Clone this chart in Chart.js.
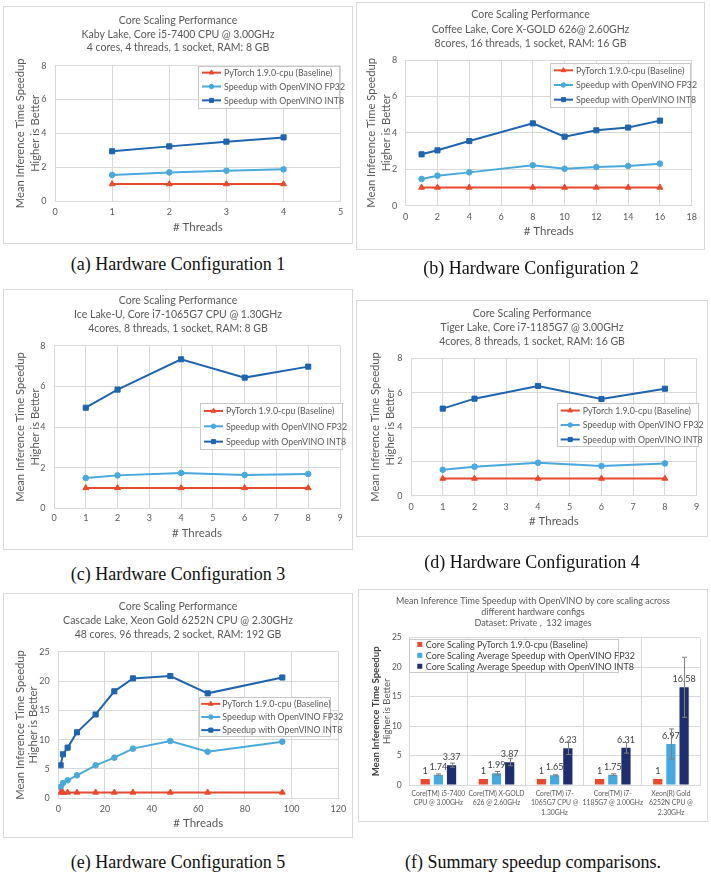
<!DOCTYPE html>
<html><head><meta charset="utf-8">
<script src="https://cdn.jsdelivr.net/npm/chart.js@4.4.0/dist/chart.umd.min.js"></script>
<style>
html,body{margin:0;padding:0;background:#fff;}
body{width:711px;height:881px;overflow:hidden;position:relative;}
.panel{position:absolute;}
.panel canvas{position:absolute;left:0;top:0;}
.frame{position:absolute;left:0;top:0;border:1px solid #d9d9d9;box-sizing:border-box;pointer-events:none;}
.cap{position:absolute;font-family:"Liberation Serif","DejaVu Serif",serif;font-size:18px;color:#111;white-space:nowrap;transform:translate(-50%,-50%);}
</style></head><body>
<script>
// ================= DATA =================
const seriesNames = ['PyTorch 1.9.0-cpu (Baseline)', 'Speedup with OpenVINO FP32', 'Speedup with OpenVINO INT8'];
const xAxisTitle = '# Threads';
const yAxisTitle = ['Mean Inference Time Speedup', 'Higher is Better'];

const titleA = ['Core Scaling Performance', 'Kaby Lake, Core i5-7400 CPU @ 3.00GHz', '4 cores, 4 threads, 1 socket, RAM: 8 GB'];
const threadsA = [1, 2, 3, 4];
const baselineA = [1, 1, 1, 1];
const fp32A = [1.54, 1.69, 1.79, 1.87];
const int8A = [2.94, 3.23, 3.51, 3.76];

const titleB = ['Core Scaling Performance', 'Coffee Lake, Core X-GOLD 626@ 2.60GHz', '8cores, 16 threads, 1 socket, RAM: 16 GB'];
const threadsB = [1, 2, 4, 8, 10, 12, 14, 16];
const baselineB = [1, 1, 1, 1, 1, 1, 1, 1];
const fp32B = [1.47, 1.65, 1.83, 2.22, 2.03, 2.12, 2.18, 2.31];
const int8B = [2.82, 3.04, 3.55, 4.52, 3.79, 4.14, 4.29, 4.67];

const titleC = ['Core Scaling Performance', 'Ice Lake-U, Core i7-1065G7 CPU @ 1.30GHz', '4cores, 8 threads, 1 socket, RAM: 8 GB'];
const threadsC = [1, 2, 4, 6, 8];
const baselineC = [1, 1, 1, 1, 1];
const fp32C = [1.49, 1.62, 1.74, 1.64, 1.69];
const int8C = [4.95, 5.84, 7.33, 6.43, 6.97];

const titleD = ['Core Scaling Performance', 'Tiger Lake, Core i7-1185G7 @ 3.00GHz', '4cores, 8 threads, 1 socket, RAM: 16 GB'];
const threadsD = [1, 2, 4, 6, 8];
const baselineD = [1, 1, 1, 1, 1];
const fp32D = [1.51, 1.69, 1.92, 1.73, 1.88];
const int8D = [5.07, 5.65, 6.39, 5.63, 6.23];

const titleE = ['Core Scaling Performance', 'Cascade Lake, Xeon Gold 6252N CPU @ 2.30GHz', '48 cores, 96 threads, 2 socket, RAM: 192 GB'];
const threadsE = [1, 2, 4, 8, 16, 24, 32, 48, 64, 96];
const baselineE = [1, 1, 1, 1, 1, 1, 1, 1, 1, 1];
const fp32E = [1.93, 2.6, 3.07, 3.92, 5.63, 6.93, 8.47, 9.77, 7.95, 9.66];
const int8E = [5.63, 7.5, 8.64, 11.25, 14.3, 18.24, 20.45, 20.85, 17.9, 20.6];

const summaryTitle = ['Mean Inference Time Speedup with OpenVINO by core scaling across', 'different hardware configs', 'Dataset: Private ,  132 images'];
const summaryCats = [['Core(TM) i5-7400', 'CPU @ 3.00GHz'], ['Core(TM) X-GOLD', '626 @ 2.60GHz'], ['Core(TM) i7-', '1065G7 CPU @', '1.30GHz'], ['Core(TM) i7-', '1185G7 @ 3.00GHz'], ['Xeon(R) Gold', '6252N CPU @', '2.30GHz']];
const summaryNames = ['Core Scaling PyTorch 1.9.0-cpu (Baseline)', 'Core Scaling Average Speedup with OpenVINO FP32', 'Core Scaling Average Speedup with OpenVINO INT8'];
const summaryBase = [1, 1, 1, 1, 1];
const summaryFp32 = [1.74, 1.99, 1.65, 1.75, 6.97];
const summaryInt8 = [3.37, 3.87, 6.23, 6.31, 16.58];
const errFp32 = [0.15, 0.3, 0.1, 0.15, 2.55];
const errInt8 = [0.35, 0.6, 1.05, 0.9, 5.1];
const summaryYTitle = ['Mean Inference Time Speedup', 'Higher is Better'];

const captions = ['(a) Hardware Configuration 1', '(b) Hardware Configuration 2', '(c) Hardware Configuration 3',
                  '(d) Hardware Configuration 4', '(e) Hardware Configuration 5', '(f) Summary speedup comparisons.'];

// ================= STYLE / LAYOUT =================
const FONT = 'Lato, "Open Sans", sans-serif';
const C_RED = '#E84A2E', C_LB = '#4AA8DC', C_DB = '#1F64AE';
const B_RED = '#E84A2E', B_LB = '#45A8DE', B_NAVY = '#1F2E6E';
const GRID = '#d9d9d9', TXT = '#595959';

function mkPanel(box) {
  const d = document.createElement('div');
  d.className = 'panel';
  const W = Math.round(box[2] - box[0]), H = Math.round(box[3] - box[1]);
  d.style.left = box[0] + 'px'; d.style.top = box[1] + 'px';
  d.style.width = W + 'px'; d.style.height = H + 'px';
  const cv = document.createElement('canvas');
  cv.width = W; cv.height = H; cv.style.width = W + 'px'; cv.style.height = H + 'px';
  d.appendChild(cv);
  const f = document.createElement('div'); f.className = 'frame';
  f.style.width = W + 'px'; f.style.height = H + 'px';
  d.appendChild(f);
  document.body.appendChild(d);
  return {cv, W, H};
}

const lineLegendPlugin = {
  id: 'lineLegend',
  afterDraw(chart, args, o) {
    const b = o.box; if (!b) return;
    const ctx = chart.ctx;
    ctx.save();
    ctx.fillStyle = '#fff';
    ctx.fillRect(b[0], b[1], b[2] - b[0], b[3] - b[1]);
    ctx.strokeStyle = '#c8c8c8'; ctx.lineWidth = 1;
    ctx.strokeRect(Math.round(b[0]) + 0.5, Math.round(b[1]) + 0.5, Math.round(b[2] - b[0]), Math.round(b[3] - b[1]));
    const n = chart.data.datasets.length;
    const rowH = (b[3] - b[1]) / n;
    ctx.font = o.fontSize + 'px ' + FONT;
    ctx.textBaseline = 'middle'; ctx.textAlign = 'left';
    chart.data.datasets.forEach((ds, i) => {
      const cy = b[1] + rowH * (i + 0.5);
      const x0 = b[0] + o.x0, x1 = b[0] + o.x1;
      ctx.strokeStyle = ds.borderColor; ctx.lineWidth = ds.borderWidth;
      ctx.beginPath(); ctx.moveTo(x0, cy); ctx.lineTo(x1, cy); ctx.stroke();
      ctx.fillStyle = ds.pointBackgroundColor; ctx.strokeStyle = ds.borderColor; ctx.lineWidth = 1;
      Chart.helpers.drawPoint(ctx, {pointStyle: ds.pointStyle, radius: ds.pointRadius * 0.8, borderWidth: 1, rotation: 0}, (x0 + x1) / 2, cy);
      ctx.fillStyle = TXT;
      ctx.fillText(ds.label, x1 + o.gap, cy + 0.5);
    });
    ctx.restore();
  }
};

function lineChart(g, titleLines, xs, base, fp32, int8, xMax, xStep, yMax, yStep) {
  const {cv, W, H} = mkPanel(g.box);
  const bx = g.box[0], by = g.box[1];
  const pl = g.plot[0] - bx, pt = g.plot[1] - by, pr = g.plot[2] - bx, pb = g.plot[3] - by;
  const padR = W - pr, padL = padR;
  const yScaleW = pl - padL;
  const tSize = 10.5, tLH = g.titleLH;
  const tTop = (g.titleY - by) - tLH / 2;
  const tBottom = pt - tTop - titleLines.length * tLH;
  const yTSize = 11.2, yLH = g.yLH;
  const yTitlePad = (g.yTitleX - bx) - padL - yLH / 2;
  const tickSize = 9, tickLH = 11;
  const xTickPad = (g.tickY - g.plot[3]) - tickLH / 2;
  const xTSize = 11.5, xLH = 14;
  const xAxisH = (g.xTitleY - by) + xLH / 2 - pb;
  const padB = H - pb - xAxisH;
  const pts = arr => xs.map((x, i) => ({x: x, y: arr[i]}));
  const mk = (label, arr, color, style, r) => ({
    label, data: pts(arr), borderColor: color, backgroundColor: color, pointBackgroundColor: color,
    pointBorderColor: color, pointStyle: style, pointRadius: r, pointBorderWidth: 1, borderWidth: 2, tension: 0
  });
  new Chart(cv, {
    type: 'line',
    data: {datasets: [
      mk(seriesNames[0], base, C_RED, 'triangle', 3.4),
      mk(seriesNames[1], fp32, C_LB, 'circle', 2.8),
      mk(seriesNames[2], int8, C_DB, 'rect', 3.6)
    ]},
    options: {
      responsive: false, animation: false, devicePixelRatio: 1,
      layout: {padding: {left: padL, right: padR, top: 0, bottom: padB}},
      plugins: {
        legend: {display: false}, tooltip: {enabled: false},
        title: {display: true, text: titleLines, color: TXT,
          font: {family: FONT, size: tSize, weight: 'normal', lineHeight: tLH / tSize},
          padding: {top: tTop, bottom: tBottom}},
        lineLegend: {box: [g.legend[0] - bx, g.legend[1] - by, g.legend[2] - bx, g.legend[3] - by],
          x0: g.lg[0], x1: g.lg[1], gap: g.lg[2], fontSize: 8.8}
      },
      scales: {
        x: {type: 'linear', min: 0, max: xMax,
          ticks: {stepSize: xStep, color: TXT, font: {family: FONT, size: tickSize, lineHeight: tickLH / tickSize}, padding: xTickPad, maxRotation: 0, autoSkip: false},
          grid: {color: GRID, drawTicks: false, lineWidth: 1}, border: {color: GRID},
          title: {display: true, text: xAxisTitle, color: TXT, font: {family: FONT, size: xTSize, lineHeight: xLH / xTSize}, padding: {top: 0, bottom: 0}},
          afterFit: s => { s.height = xAxisH; }},
        y: {min: 0, max: yMax,
          ticks: {stepSize: yStep, color: TXT, font: {family: FONT, size: tickSize}, padding: g.yTickPad},
          grid: {color: GRID, drawTicks: false, lineWidth: 1}, border: {color: GRID},
          title: {display: true, text: yAxisTitle, color: TXT, font: {family: FONT, size: yTSize, lineHeight: yLH / yTSize}, padding: {top: yTitlePad, bottom: 0}},
          afterFit: s => { s.width = yScaleW; }}
      }
    },
    plugins: [lineLegendPlugin]
  });
}

const barExtrasPlugin = {
  id: 'barExtras',
  afterDatasetsDraw(chart, args, o) {
    const ctx = chart.ctx, ys = chart.scales.y;
    ctx.save();
    // value labels
    ctx.font = '9px ' + FONT; ctx.fillStyle = '#404040'; ctx.textAlign = 'center'; ctx.textBaseline = 'middle';
    chart.data.datasets.forEach((ds, di) => {
      chart.getDatasetMeta(di).data.forEach((el, i) => {
        ctx.fillText(String(ds.data[i]), el.x, el.y - 8);
      });
    });
    // error bars
    ctx.strokeStyle = '#808080'; ctx.lineWidth = 1;
    o.errors.forEach((errs, di) => {
      if (!errs) return;
      const ds = chart.data.datasets[di];
      chart.getDatasetMeta(di).data.forEach((el, i) => {
        const v = ds.data[i];
        const yt = ys.getPixelForValue(v + errs[i]), yb = ys.getPixelForValue(v - errs[i]);
        const x = Math.round(el.x) + 0.5;
        ctx.beginPath();
        ctx.moveTo(x, yt); ctx.lineTo(x, yb);
        ctx.moveTo(x - 2.5, yt); ctx.lineTo(x + 2.5, yt);
        ctx.moveTo(x - 2.5, yb); ctx.lineTo(x + 2.5, yb);
        ctx.stroke();
      });
    });
    ctx.restore();
  },
  afterDraw(chart, args, o) {
    const ctx = chart.ctx;
    ctx.save();
    // second line of y title (regular weight)
    const ca = chart.chartArea;
    ctx.translate(o.y2x, (ca.top + ca.bottom) / 2);
    ctx.rotate(-Math.PI / 2);
    ctx.font = '9.5px ' + FONT; ctx.fillStyle = TXT; ctx.textAlign = 'center'; ctx.textBaseline = 'middle';
    ctx.fillText(o.y2text, 0, 0);
    ctx.restore();
    // legend
    const b = o.legend;
    ctx.save();
    ctx.fillStyle = '#fff'; ctx.fillRect(b[0], b[1], b[2] - b[0], b[3] - b[1]);
    ctx.strokeStyle = '#c8c8c8'; ctx.lineWidth = 1;
    ctx.strokeRect(Math.round(b[0]) + 0.5, Math.round(b[1]) + 0.5, Math.round(b[2] - b[0]), Math.round(b[3] - b[1]));
    const n = chart.data.datasets.length, rowH = (b[3] - b[1]) / n;
    ctx.font = '9px ' + FONT; ctx.textAlign = 'left'; ctx.textBaseline = 'middle';
    chart.data.datasets.forEach((ds, i) => {
      const cy = b[1] + rowH * (i + 0.5);
      ctx.fillStyle = ds.backgroundColor;
      ctx.fillRect(b[0] + 8, cy - 2.5, 5, 5);
      ctx.fillStyle = '#404040';
      ctx.fillText(ds.label, b[0] + 16.5, cy + 0.5);
    });
    ctx.restore();
  }
};

function barChart(g) {
  const {cv, W, H} = mkPanel(g.box);
  const bx = g.box[0], by = g.box[1];
  const pl = g.plot[0] - bx, pt = g.plot[1] - by, pr = g.plot[2] - bx, pb = g.plot[3] - by;
  const padR = W - pr, padL = padR;
  const yScaleW = pl - padL;
  const tSize = 9, tLH = g.titleLH;
  const tTop = (g.titleY - by) - tLH / 2;
  const tBottom = pt - tTop - summaryTitle.length * tLH;
  const ySize = 9.6, yLH = 11;
  const yTitlePad = (g.yTitleX - bx) - padL - yLH / 2;
  const xSize = 6.8, xLH = g.xLH;
  const xTickPad = (g.tickY - g.plot[3]) - xLH / 2;
  const padB = 2;
  const xAxisH = H - pb - padB;
  new Chart(cv, {
    type: 'bar',
    data: {labels: summaryCats, datasets: [
      {label: summaryNames[0], data: summaryBase, backgroundColor: B_RED},
      {label: summaryNames[1], data: summaryFp32, backgroundColor: B_LB},
      {label: summaryNames[2], data: summaryInt8, backgroundColor: B_NAVY}
    ]},
    options: {
      responsive: false, animation: false, devicePixelRatio: 1,
      categoryPercentage: 0.68, barPercentage: 0.70,
      layout: {padding: {left: padL, right: padR, top: 0, bottom: padB}},
      plugins: {
        legend: {display: false}, tooltip: {enabled: false},
        title: {display: true, text: summaryTitle, color: TXT,
          font: {family: FONT, size: tSize, weight: 'normal', lineHeight: tLH / tSize},
          padding: {top: tTop, bottom: tBottom}},
        barExtras: {errors: [null, errFp32, errInt8], legend: [g.legend[0] - bx, g.legend[1] - by, g.legend[2] - bx, g.legend[3] - by],
          y2x: g.yTitle2X - bx, y2text: summaryYTitle[1]}
      },
      scales: {
        x: {ticks: {color: TXT, font: {family: FONT, size: xSize, lineHeight: xLH / xSize}, padding: xTickPad, maxRotation: 0, autoSkip: false},
          grid: {color: GRID, drawTicks: false, offset: true}, border: {color: GRID},
          afterFit: s => { s.height = xAxisH; }},
        y: {min: 0, max: 25,
          ticks: {stepSize: 5, color: TXT, font: {family: FONT, size: 8.5}, padding: g.yTickPad},
          grid: {color: GRID, drawTicks: false}, border: {display: false},
          title: {display: true, text: summaryYTitle[0], color: '#404040', font: {family: FONT, size: ySize, weight: 'bold', lineHeight: yLH / ySize}, padding: {top: yTitlePad, bottom: 0}},
          afterFit: s => { s.width = yScaleW; }}
      }
    },
    plugins: [barExtrasPlugin]
  });
}

// panel geometry in page pixels
const G_A = {box: [3, 6, 353, 244], plot: [55, 65.7, 340.7, 201], titleY: 20.7, titleLH: 13.6, yTitleX: 20.7, yLH: 15, yTickPad: 8.5, tickY: 211.7, xTitleY: 227.7, legend: [198, 65.7, 339, 107.3], lg: [4, 23, 3]};
const G_B = {box: [356, 2, 705, 250], plot: [405.7, 60, 691.7, 205.7], titleY: 15, titleLH: 14.2, yTitleX: 371.7, yLH: 15, yTickPad: 8.5, tickY: 217.3, xTitleY: 231, legend: [550, 63, 690, 107], lg: [4, 23, 3]};
const G_C = {box: [3, 289, 353, 550], plot: [54, 345.7, 340, 508.3], titleY: 300.7, titleLH: 13.8, yTitleX: 20.7, yLH: 14.5, yTickPad: 8.5, tickY: 518, xTitleY: 533, legend: [200, 403.3, 341.7, 449.3], lg: [4, 23, 3]};
const G_D = {box: [356, 300, 708, 537], plot: [411, 358.3, 696.7, 495.7], titleY: 313.3, titleLH: 14.2, yTitleX: 375.7, yLH: 14.5, yTickPad: 8.5, tickY: 506.7, xTitleY: 521, legend: [556.7, 403.3, 697.7, 446.7], lg: [4, 23, 3]};
const G_E = {box: [3, 593, 353, 838], plot: [58.3, 651.7, 338.3, 798.3], titleY: 606.7, titleLH: 13.8, yTitleX: 20.7, yLH: 13, yTickPad: 8.5, tickY: 809.3, xTitleY: 823.3, legend: [199.3, 697.3, 330, 736.7], lg: [2, 21, 2]};
const G_F = {box: [358, 589, 708, 822], plot: [409.3, 637.7, 700, 785], titleY: 601, titleLH: 10.8, yTitleX: 375.7, yTitle2X: 387.3, yTickPad: 7.5, tickY: 794, xLH: 9.3, legend: [409.3, 639, 618.3, 671.7]};

lineChart(G_A, titleA, threadsA, baselineA, fp32A, int8A, 5, 1, 8, 2);
lineChart(G_B, titleB, threadsB, baselineB, fp32B, int8B, 18, 2, 8, 2);
lineChart(G_C, titleC, threadsC, baselineC, fp32C, int8C, 9, 1, 8, 2);
lineChart(G_D, titleD, threadsD, baselineD, fp32D, int8D, 9, 1, 8, 2);
lineChart(G_E, titleE, threadsE, baselineE, fp32E, int8E, 120, 20, 25, 5);
barChart(G_F);

const capPos = [[178, 264], [531, 268], [178, 574], [532, 562], [178, 862], [533, 862]];
captions.forEach((t, i) => {
  const d = document.createElement('div'); d.className = 'cap'; d.textContent = t;
  d.style.left = capPos[i][0] + 'px'; d.style.top = capPos[i][1] + 'px';
  document.body.appendChild(d);
});
</script>
</body></html>
